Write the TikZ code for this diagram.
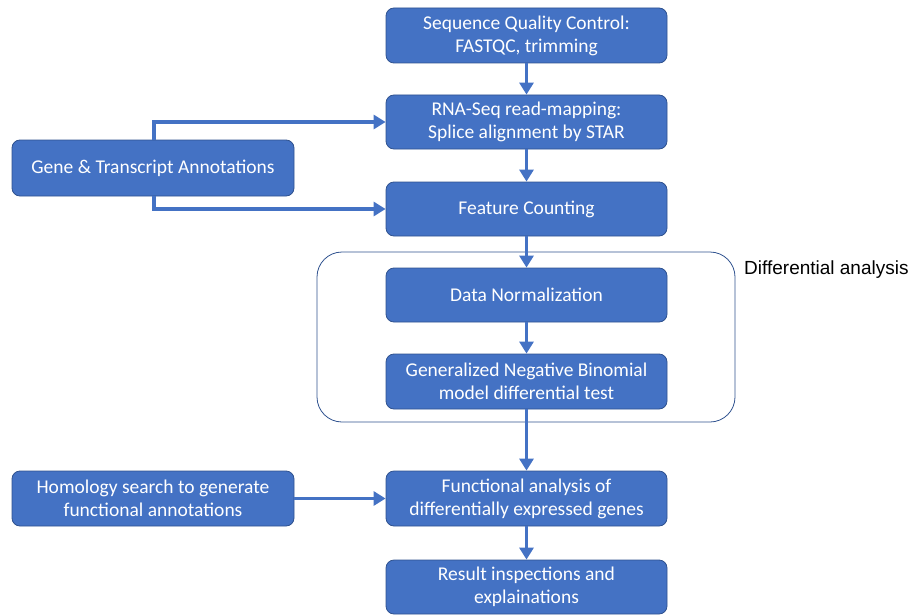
\documentclass[tikz,border=0pt]{standalone}
\usepackage{fontspec}
\setmainfont{Carlito}
\newfontfamily\arialfont{Liberation Sans}
\usetikzlibrary{arrows.meta}
\definecolor{boxblue}{HTML}{4472C4}
\definecolor{boxedge}{HTML}{2F528F}
\begin{document}
\begin{tikzpicture}[x=1pt,y=-1pt,
  box/.style={draw=boxedge, line width=0.8pt, fill=boxblue, rounded corners=8pt,
    text=white, align=center, inner sep=0pt,
    font=\fontsize{19.5}{23}\selectfont},
  midbox/.style={box, minimum width=281pt},
  sidebox/.style={box, minimum width=282pt},
  flow/.style={draw=boxblue, line width=3.5pt, -{Triangle[length=12pt,width=14pt]}}
]
\useasboundingbox (0,0) rectangle (917,615);
\node[midbox, minimum height=55pt] (qc) at (526.5,35.5) {Sequence Quality Control:\\FASTQC, trimming};
\node[midbox, minimum height=54pt] (map) at (526.5,122) {RNA-Seq read-mapping:\\Splice alignment by STAR};
\node[midbox, minimum height=54pt] (count) at (526.5,209) {Feature Counting};
\node[draw=boxedge, line width=0.8pt, rounded corners=25pt, minimum width=418pt, minimum height=170pt, inner sep=0pt] (diff) at (526,337) {};
\node[anchor=west, font=\arialfont\fontsize{19}{22}\selectfont, inner sep=0pt] (difflabel) at (744,270) {Differential analysis};
\node[midbox, minimum height=54pt] (norm) at (526.5,295) {Data Normalization};
\node[midbox, minimum height=55pt] (gnb) at (526.5,381.5) {Generalized Negative Binomial\\model differential test};
\node[midbox, minimum height=55pt] (func) at (526.5,498.5) {Functional analysis of\\differentially expressed genes};
\node[midbox, minimum height=54pt] (res) at (526.5,587) {Result inspections and\\explainations};
\node[sidebox, minimum height=56pt] (gene) at (153,168) {Gene \& Transcript Annotations};
\node[sidebox, minimum height=55pt] (hom) at (153,498.5) {Homology search to generate\\functional annotations};

\coordinate (gtop) at (154,140);
\coordinate (gbot) at (154,196);
\draw[flow] (qc) -- (map);
\draw[flow] (map) -- (count);
\draw[flow] (count) -- (norm);
\draw[flow] (norm) -- (gnb);
\draw[flow] (gnb) -- (func);
\draw[flow] (func) -- (res);
\draw[flow] (gtop) |- (map.west);
\draw[flow] (gbot) |- (count.west);
\draw[flow] (hom) -- (func);
\end{tikzpicture}
\end{document}
